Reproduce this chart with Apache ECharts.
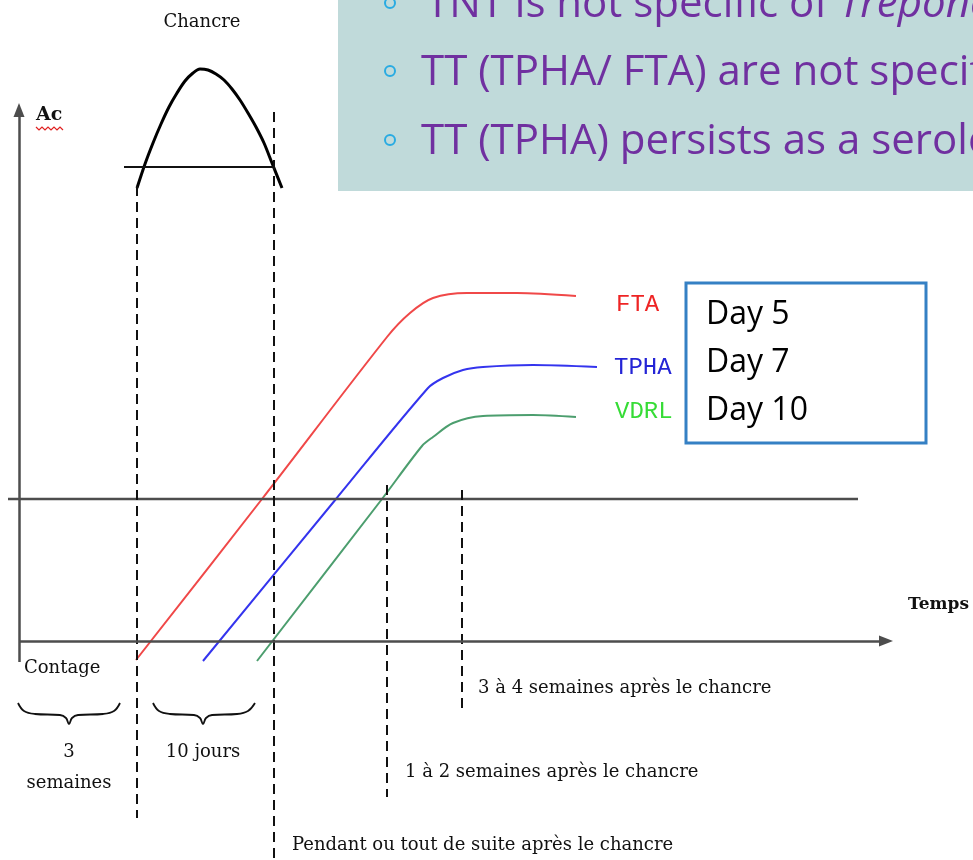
<!DOCTYPE html>
<html>
<head>
<meta charset="utf-8">
<script src="https://cdn.jsdelivr.net/npm/echarts@6/dist/echarts.min.js"></script>
<style>
  html, body { margin: 0; padding: 0; background: #fff; }
  #chart { width: 973px; height: 860px; }
</style>
</head>
<body>
<div id="chart"></div>
<script>
// curves (x = time, y = antibody level drawn top-down)
const ftaCurve = [[136, 660], [262, 499], [387, 337], [410, 313], [433, 298], [467, 293], [517, 293], [576, 296]];
const tphaCurve = [[203, 661], [336, 499], [428, 388], [443, 378], [463, 370], [483, 367], [533, 365], [597, 367]];
const vdrlCurve = [[257, 661], [382, 499], [422, 446], [433, 437], [453, 423], [483, 416], [533, 415], [576, 417]];
const chancreCurve = [[137, 188], [145, 164], [153, 143], [161, 124], [169, 107], [177, 93], [185, 81], [193, 73], [200, 69],
  [208, 70], [216, 74], [224, 80], [232, 89], [240, 100], [248, 113], [256, 127], [264, 143], [272, 163], [282, 188]];
const chancreBase = [[124, 167], [273, 167]];
const thresholdLine = [[8, 499], [858, 499]];
// dashed markers: x, top, bottom
const dashedGuides = [[137, 186, 818], [274, 112, 860], [387, 485, 797], [462, 490, 710]];
// braces under the axis
const braceWeeks = [[18, 703], [24, 711], [35, 714], [60, 715], [66, 718], [69, 724], [72, 718], [78, 715], [103, 714], [114, 711], [120, 703]];
const braceDays = [[153, 703], [159, 711], [170, 714], [194, 715], [200, 718], [203, 724], [206, 718], [212, 715], [237, 714], [248, 711], [255, 703]];

const testNames = ['FTA', 'TPHA', 'VDRL'];
const dayLabels = ['Day 5', 'Day 7', 'Day 10'];
const bulletLines = [
  '{n|TNT is not specific of }{i|Treponema pallidum}',
  'TT (TPHA/ FTA) are not specific of Treponema pallidum',
  'TT (TPHA) persists as a serological scar'
];

const chart = echarts.init(document.getElementById('chart'));
const serif = 'DejaVu Serif';
const purple = '#7030a0';
const axisGray = '#4d4d4d';

const curve = (data, color, width, smooth) => ({
  type: 'line', data: data, symbol: 'none', smooth: smooth, silent: true,
  lineStyle: { color: color, width: width }
});

let seriesData = [
  curve(ftaCurve, '#f04848', 2, 0.3),
  curve(tphaCurve, '#3434ee', 2, 0.3),
  curve(vdrlCurve, '#4c9e6e', 2, 0.3),
  curve(chancreCurve, '#000', 3, 0.3),
  curve(chancreBase, '#111', 2, false),
  curve(thresholdLine, axisGray, 2.5, false),
  curve(braceWeeks, '#111', 1.8, 0.4),
  curve(braceDays, '#111', 1.8, 0.4)
];
dashedGuides.forEach(g => {
  seriesData.push({
    type: 'line', data: [[g[0], g[1]], [g[0], g[2]]], symbol: 'none', silent: true,
    lineStyle: { color: '#111', width: 2, type: [10, 6] }
  });
});
// the two axes with their arrow heads
seriesData.push({
  type: 'line', data: [], silent: true,
  markLine: {
    silent: true, animation: false,
    symbol: ['none', 'triangle'], symbolSize: [11, 14],
    label: { show: false },
    lineStyle: { color: axisGray, width: 2.5, type: 'solid' },
    data: [
      [{ coord: [19, 662] }, { coord: [19, 110] }],
      [{ coord: [19, 641] }, { coord: [886, 641] }]
    ]
  }
});

const serifText = (text, x, y, align, extra) => ({
  type: 'text', x: x, y: y, silent: true, z: 20,
  style: Object.assign({ text: text, font: '18px "' + serif + '"', fill: '#111', align: align, verticalAlign: 'middle' }, extra || {})
});

const graphics = [
  { type: 'rect', shape: { x: 338, y: 0, width: 635, height: 191 }, style: { fill: '#c0dada' }, z: 1, silent: true },
  { type: 'rect', shape: { x: 686, y: 283, width: 240, height: 160 }, style: { fill: '#fff', stroke: '#3580c4', lineWidth: 3 }, z: 10, silent: true },
  serifText('Chancre', 202, 22, 'center'),
  serifText('Ac', 36, 115, 'left', { font: 'bold 19px "' + serif + '"' }),
  { type: 'polyline', shape: { points: [[36, 127], [39, 130], [42, 127], [45, 130], [48, 127], [51, 130], [54, 127], [57, 130], [60, 127], [63, 130]] },
    style: { stroke: '#e02020', lineWidth: 1.2, fill: null }, z: 20, silent: true },
  serifText('Temps', 908, 605, 'left', { font: 'bold 17px "' + serif + '"' }),
  serifText('Contage', 24, 668, 'left'),
  serifText('3', 69, 752, 'center'),
  serifText('semaines', 69, 783, 'center'),
  serifText('10 jours', 203, 752, 'center'),
  serifText('3 à 4 semaines après le chancre', 478, 688, 'left'),
  serifText('1 à 2 semaines après le chancre', 405, 772, 'left'),
  serifText('Pendant ou tout de suite après le chancre', 292, 845, 'left')
];

const testColors = ['#ee2424', '#2424d6', '#36dc36'];
const testPos = [[616, 305], [614, 368], [615, 412]];
testNames.forEach((t, i) => {
  graphics.push({
    type: 'text', x: testPos[i][0], y: testPos[i][1], z: 20, silent: true,
    style: { text: t, font: '24px "Liberation Mono"', fill: testColors[i], align: 'left', verticalAlign: 'middle' }
  });
});
const dayY = [315, 363, 411];
dayLabels.forEach((t, i) => {
  graphics.push({
    type: 'text', x: 706, y: dayY[i], z: 20, silent: true,
    style: { text: t, font: '32px "Open Sans"', fill: '#000', align: 'left', verticalAlign: 'middle' }
  });
});
const bulletY = [5, 73, 142];
const bulletX = [426, 421, 421];
bulletLines.forEach((t, i) => {
  graphics.push({
    type: 'circle', shape: { cx: 390, cy: bulletY[i] - 2, r: 5 }, z: 20, silent: true,
    style: { fill: null, stroke: '#29abe2', lineWidth: 2 }
  });
  graphics.push({
    type: 'text', x: bulletX[i], y: bulletY[i], z: 20, silent: true,
    style: {
      text: t, font: '42px "Open Sans"', fill: purple, align: 'left', verticalAlign: 'middle',
      rich: {
        n: { font: '42px "Open Sans"', fill: purple },
        i: { font: 'italic 42px "Open Sans"', fill: purple }
      }
    }
  });
});

chart.setOption({
  animation: false,
  backgroundColor: '#fff',
  grid: { left: 0, right: 0, top: 0, bottom: 0 },
  xAxis: { type: 'value', min: 0, max: 973, show: false },
  yAxis: { type: 'value', min: 0, max: 860, inverse: true, show: false },
  series: seriesData,
  graphic: graphics
});
</script>
</body>
</html>
